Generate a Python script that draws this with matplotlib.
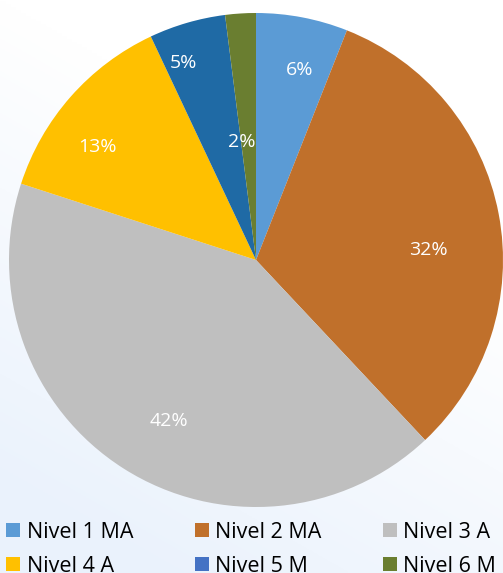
import numpy as np
import matplotlib
matplotlib.use("Agg")
import matplotlib.pyplot as plt
from matplotlib.patches import Patch

# Data
LABELS = ["Nivel 1 MA", "Nivel 2 MA", "Nivel 3 A", "Nivel 4 A", "Nivel 5 M", "Nivel 6 M"]
VALUES = [6, 32, 42, 13, 5, 2]

PIE_COLORS = ["#5B9BD5", "#C0702B", "#BFBFBF", "#FFC000", "#1F6AA5", "#6A7E30"]
LEGEND_COLORS = ["#5B9BD5", "#C0702B", "#BFBFBF", "#FFC000", "#4472C4", "#6A7E30"]
# percent label placement: radius fraction and angular shift (deg, clockwise)
LABEL_R = [0.79, 0.70, 0.74, 0.79, 0.85, 0.48]
LABEL_SHIFT = [2.2, 7.5, -4.1, -6.0, -4.0, -3.2]

plt.rcParams["font.family"] = ["Open Sans", "DejaVu Sans"]

W, H = 503, 573
fig = plt.figure(figsize=(W / 100, H / 100), dpi=100)

# subtle background gradient (white top-right -> pale blue bottom-left)
bg = fig.add_axes([0, 0, 1, 1], zorder=0)
yy, xx = np.mgrid[0:1:200j, 0:1:200j]
t = np.clip((yy * 1.2 + (1 - xx) * 0.6 - 0.6), 0, 1)
top = np.array([1.0, 1.0, 1.0])
low = np.array([0.92, 0.95, 0.99])
img = top[None, None, :] * (1 - t[..., None]) + low[None, None, :] * t[..., None]
bg.imshow(img, extent=[0, 1, 0, 1], aspect="auto", origin="upper")
bg.axis("off")

cx, cy, r = 256, 260, 247
ax = fig.add_axes([(cx - r) / W, (H - cy - r) / H, 2 * r / W, 2 * r / H], zorder=1)
ax.patch.set_alpha(0)
wedges, _ = ax.pie(VALUES, colors=PIE_COLORS, startangle=90, counterclock=False,
                   radius=1.0, wedgeprops=dict(linewidth=0))
for w, v, lr, sh in zip(wedges, VALUES, LABEL_R, LABEL_SHIFT):
    mid = np.deg2rad((w.theta1 + w.theta2) / 2 - sh)
    ax.text(lr * np.cos(mid), lr * np.sin(mid), f"{v}%", color="white",
            fontsize=14, ha="center", va="center")
ax.set_xlim(-1, 1)
ax.set_ylim(-1, 1)
ax.set_aspect("equal")
ax.axis("off")

# legend laid out row by row (matplotlib fills columns first)
order = [0, 3, 1, 4, 2, 5]
handles = [Patch(facecolor=LEGEND_COLORS[i], edgecolor="none") for i in order]
fig.legend(handles, [LABELS[i] for i in order], ncol=3, loc="lower left",
           bbox_to_anchor=(0.0, -0.018),
           frameon=False, fontsize=15.5, handlelength=0.65, handleheight=0.65,
           handletextpad=0.3, columnspacing=2.85, labelspacing=0.62,
           borderaxespad=0.0, borderpad=0.3)

fig.savefig("out.png", dpi=100)
